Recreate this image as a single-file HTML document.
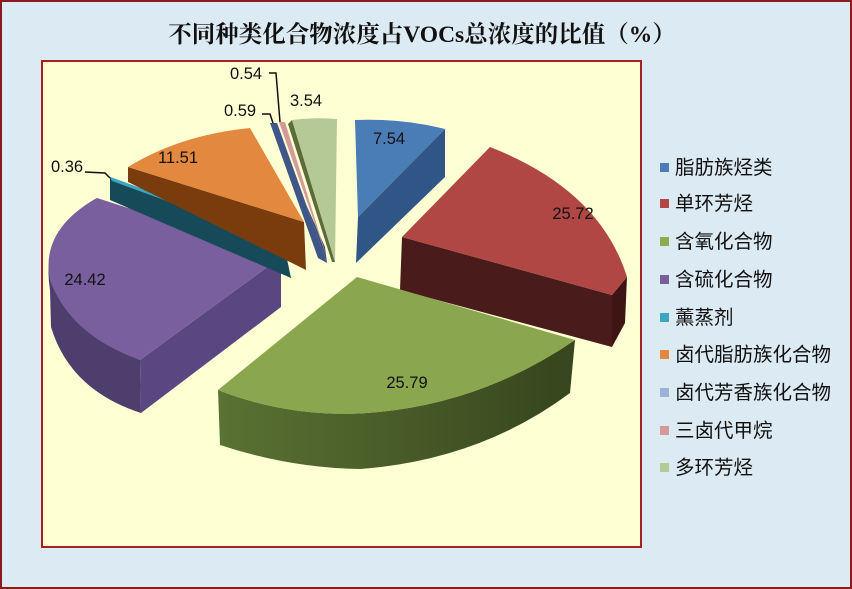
<!DOCTYPE html>
<html><head><meta charset="utf-8"><style>
body{margin:0;width:852px;height:589px;overflow:hidden;background:#dbeaf3;}
svg{display:block}
</style></head><body>
<svg width="852" height="589" viewBox="0 0 852 589" xmlns="http://www.w3.org/2000/svg">
<defs>
<linearGradient id="gs" x1="0" x2="1" y1="0" y2="0"><stop offset="0" stop-color="#5a7233"/><stop offset="1" stop-color="#36451d"/></linearGradient>
</defs>
<rect x="1" y="1" width="850" height="587" fill="#dbeaf3" stroke="#8b1a1a" stroke-width="2"/>
<text x="422" y="42" text-anchor="middle" font-family="'Liberation Serif','Noto Serif CJK SC',serif" font-size="23.5" font-weight="bold" fill="#111">不同种类化合物浓度占VOCs总浓度的比值（%）</text>
<rect x="42" y="61" width="599" height="486" fill="#ffffd4" stroke="#a52020" stroke-width="2"/>

<!-- purple -->
<path d="M97,198 Q40,230 50,290 L51,327 Q70,390 141,413 L140,360 Q60,320 50,260 Z" fill="#4e3e6e"/>
<path d="M140,360 L281,257 L281,307 L141,413 Z" fill="#5a4680"/>
<path d="M281,257 L97,198 Q40,230 50,280 Q70,335 140,360 Z" fill="#7a5f9e"/>
<!-- teal -->
<path d="M110,177 L283,240 L291,278 L110,200 Z" fill="#164a58"/>
<path d="M110,177 L283,240 L285,244 L112,181 Z" fill="#3aa6bf"/>
<!-- orange -->
<path d="M128,167 L304,222 L306,270 L290,262 L128,182 Z" fill="#7a3c0c"/>
<path d="M128,167 Q180,135 250,128 L304,222 Z" fill="#e3893f"/>
<!-- small slices -->
<path d="M270,123 L277,123 L327,263 L325,247 Z" fill="#3a4f78"/>
<path d="M270,123 L277,123 L327,263 L318,258 Z" fill="#3e5688"/>
<path d="M279,122 L285,122 L327,258 Z" fill="#d49a9a"/>
<path d="M288,124 L292,120 L335,262 L332,262 Z" fill="#5b6b3a"/>
<path d="M292,120 Q315,117 337,119 L335,262 Z" fill="#b5c996"/>
<!-- blue -->
<path d="M445,129 L445,177 L356,263 L358,217 Z" fill="#2f5686"/>
<path d="M355,120 Q400,118 445,129 L358,217 Z" fill="#4a7cb6"/>
<!-- red -->
<path d="M612,295 L627,277 L625,323 L612,347 Z" fill="#3e1515"/>
<path d="M402,237 L612,295 L612,347 L400,290 Z" fill="#4a1b1b"/>
<path d="M402,237 L490,147 Q600,190 627,277 L612,295 Z" fill="#b04744"/>
<!-- green -->
<path d="M218,390 Q290,418 367,413 Q480,405 575,340 L570,393 Q480,460 360,469 Q290,468 220,445 Z" fill="url(#gs)"/>
<path d="M357,277 L575,340 Q480,405 367,413 Q290,418 218,390 Z" fill="#8aa64f"/>

<g font-family="'Liberation Sans',sans-serif" font-size="16.5" fill="#111">
<text x="246" y="79" text-anchor="middle">0.54</text>
<text x="240" y="116" text-anchor="middle">0.59</text>
<text x="306" y="106" text-anchor="middle">3.54</text>
<text x="389" y="144" text-anchor="middle">7.54</text>
<text x="573" y="219" text-anchor="middle">25.72</text>
<text x="178" y="163" text-anchor="middle">11.51</text>
<text x="67" y="172" text-anchor="middle">0.36</text>
<text x="85" y="285" text-anchor="middle">24.42</text>
<text x="407" y="388" text-anchor="middle">25.79</text>
</g>
<g stroke="#111" stroke-width="1.5" fill="none">
<path d="M269,73 L276,73 L280,122"/>
<path d="M262,114 L270,114 L273,123"/>
<path d="M85,172 L105,173 L110,178"/>
</g>
<g font-family="'Liberation Sans','Noto Sans CJK SC',sans-serif" font-size="19.5" fill="#111">
<rect x="660" y="163" width="9" height="9" fill="#4a7cb6"/><text x="675" y="174">脂肪族烃类</text>
<rect x="660" y="199" width="9" height="9" fill="#b04744"/><text x="675" y="210">单环芳烃</text>
<rect x="660" y="237" width="9" height="9" fill="#8fab50"/><text x="675" y="248">含氧化合物</text>
<rect x="660" y="275" width="9" height="9" fill="#7a5f9e"/><text x="675" y="286">含硫化合物</text>
<rect x="660" y="313" width="9" height="9" fill="#3aa6bf"/><text x="675" y="324">薰蒸剂</text>
<rect x="660" y="350" width="9" height="9" fill="#e3893f"/><text x="675" y="361">卤代脂肪族化合物</text>
<rect x="660" y="388" width="9" height="9" fill="#9cb0d8"/><text x="675" y="399">卤代芳香族化合物</text>
<rect x="660" y="426" width="9" height="9" fill="#d49a9a"/><text x="675" y="437">三卤代甲烷</text>
<rect x="660" y="463" width="9" height="9" fill="#b5c996"/><text x="675" y="474">多环芳烃</text>
</g>
</svg>
</body></html>
